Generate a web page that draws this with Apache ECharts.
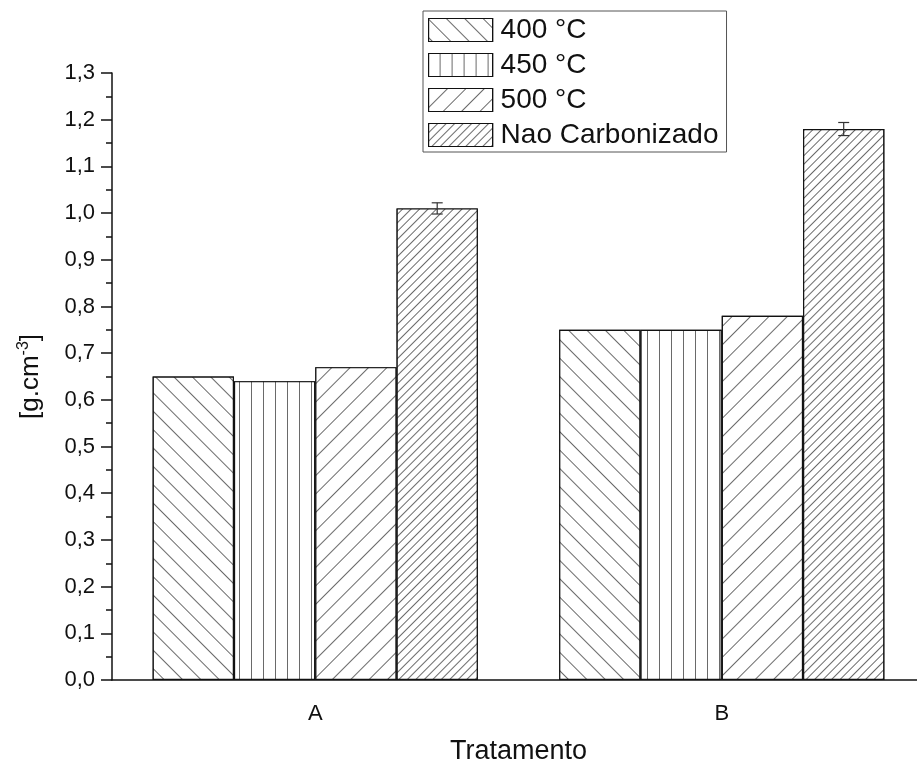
<!DOCTYPE html>
<html>
<head>
<meta charset="utf-8">
<script src="https://cdn.jsdelivr.net/npm/echarts@6/dist/echarts.min.js"></script>
<style>
html,body{margin:0;padding:0;background:#fff;}
#chart{width:917px;height:769px;}
</style>
</head>
<body>
<div id="chart"></div>
<script>
const categories = ['A', 'B'];
const seriesNames = ['400 °C', '450 °C', '500 °C', 'Nao Carbonizado'];
const values400 = [0.65, 0.75];
const values450 = [0.64, 0.75];
const values500 = [0.67, 0.78];
const valuesNao = [1.01, 1.18];
const errorsNao = [0.012, 0.014];
const yTicks = [0, 1.3, 0.1]; // min, max, interval

const FONT = 'Liberation Sans, Arial, sans-serif';
const hatch = '#6a6a6a';

function decal(rot, gap) {
  return { symbol: 'rect', symbolSize: 1, color: hatch, backgroundColor: '#ffffff',
           dashArrayX: [1, 0], dashArrayY: [1, gap], rotation: rot };
}
const decals = [
  decal(Math.PI / 4, 12),
  decal(Math.PI / 2, 11),
  decal(-Math.PI / 4, 12),
  decal(-Math.PI / 4, 4.2)
];
const allValues = [values400, values450, values500, valuesNao];

const chart = echarts.init(document.getElementById('chart'), null, {renderer: 'canvas'});

const barSeries = allValues.map((vals, i) => ({
  name: seriesNames[i],
  type: 'bar',
  xAxisIndex: 0,
  data: vals,
  barGap: '0%',
  barCategoryGap: '20%',
  itemStyle: { color: '#ffffff', borderColor: '#111', borderWidth: 1.2, decal: decals[i] },
  emphasis: { disabled: true }
}));

const errData = categories.map((c, i) => [i, valuesNao[i], errorsNao[i]]);

const option = {
  animation: false,
  aria: { enabled: true, decal: { show: true } },
  grid: { left: 112, top: 73, width: 813, height: 607, containLabel: false, outerBoundsMode: 'none' },
  legend: {
    data: seriesNames,
    orient: 'vertical',
    left: 423, top: 11,
    padding: [5, 8, 3, 5],
    itemGap: 7,
    itemWidth: 64, itemHeight: 23,
    icon: 'rect',
    borderColor: '#555', borderWidth: 1,
    itemStyle: { borderColor: '#111', borderWidth: 1.2 },
    textStyle: { fontFamily: FONT, fontSize: 28, color: '#111', padding: [0, 0, 0, 3] },
    selectedMode: false
  },
  xAxis: [{
    type: 'category',
    data: categories,
    position: 'bottom',
    axisLine: { lineStyle: { color: '#111', width: 1.5 } },
    axisTick: { alignWithLabel: true, length: 10, lineStyle: { color: '#111', width: 1.5 } },
    axisLabel: { fontFamily: FONT, fontSize: 22, color: '#111', margin: 23 },
    name: 'Tratamento',
    nameLocation: 'middle',
    nameGap: 58,
    nameTextStyle: { fontFamily: FONT, fontSize: 27, color: '#111' }
  }, {
    type: 'category',
    data: categories,
    position: 'top',
    offset: -607,
    axisLine: { show: false },
    axisTick: { inside: true, length: 6, lineStyle: { color: '#111', width: 1.5 } },
    axisLabel: { show: false }
  }],
  yAxis: {
    type: 'value',
    min: yTicks[0], max: yTicks[1], interval: yTicks[2],
    axisLine: { show: true, lineStyle: { color: '#111', width: 1.5 } },
    axisTick: { show: true, length: 11, lineStyle: { color: '#111', width: 1.5 } },
    minorTick: { show: true, splitNumber: 2, length: 6, lineStyle: { color: '#111', width: 1.5 } },
    splitLine: { show: false },
    axisLabel: { fontFamily: FONT, fontSize: 22, color: '#111', margin: 17,
      formatter: v => v.toFixed(1).replace('.', ',') },
    name: '{a|[g.cm}{s|-3}{a|]}',
    nameLocation: 'middle',
    nameGap: 66,
    nameRotate: 90,
    nameTextStyle: {
      fontFamily: FONT, color: '#111',
      rich: {
        a: { fontFamily: FONT, fontSize: 26, color: '#111' },
        s: { fontFamily: FONT, fontSize: 16, color: '#111', verticalAlign: 'top', padding: [0, 0, 14, 0] }
      }
    }
  },
  series: barSeries.concat([{
    type: 'custom',
    name: 'err',
    xAxisIndex: 0,
    data: errData,
    encode: { x: 0, y: 1 },
    z: 5,
    renderItem: function (params, api) {
      const cat = api.value(0), val = api.value(1), err = api.value(2);
      const band = api.size([1, 0])[0];
      const cx = api.coord([cat, val])[0] + band * 0.3;
      const hi = api.coord([cat, val + err])[1];
      const lo = api.coord([cat, val - err])[1];
      const hw = 5.5;
      const st = { stroke: '#333', lineWidth: 1.2 };
      return { type: 'group', children: [
        { type: 'line', shape: { x1: cx, y1: hi, x2: cx, y2: lo }, style: st },
        { type: 'line', shape: { x1: cx - hw, y1: hi, x2: cx + hw, y2: hi }, style: st },
        { type: 'line', shape: { x1: cx - hw, y1: lo, x2: cx + hw, y2: lo }, style: st }
      ]};
    }
  }])
};
chart.setOption(option);
</script>
</body>
</html>
